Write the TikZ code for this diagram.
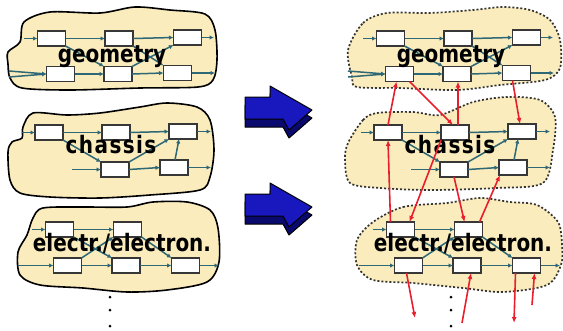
\documentclass[tikz,border=0pt]{standalone}
\usepackage{fontspec}
\usepackage{graphicx}
\usetikzlibrary{arrows.meta}
\newfontfamily\labelfont{DejaVu Sans}

\definecolor{cloudfill}{RGB}{250,236,188}
\definecolor{linkteal}{RGB}{46,104,118}
\definecolor{boxline}{RGB}{55,55,55}
\definecolor{depred}{RGB}{232,30,45}
\definecolor{arrowblue}{RGB}{24,24,190}
\definecolor{arrowdark}{RGB}{10,10,110}

\tikzset{
  box/.style={draw=boxline, fill=white, line width=1.6pt, minimum width=28pt,
    minimum height=15pt, inner sep=0pt, outer sep=0pt},
  link/.style={draw=linkteal, line width=1.5pt, -{Latex[length=4.5pt,width=4.5pt]}},
  dep/.style={draw=depred, line width=1.6pt, -{Latex[length=6pt,width=5pt]}},
  lbl/.style={font=\labelfont\bfseries\fontsize{20}{22}\selectfont, inner sep=0pt, anchor=base},
  solidcloud/.style={draw=black, line width=1.6pt},
  dotcloud/.style={draw=black!80, line width=1.7pt, dash pattern=on 2pt off 2pt},
  % geometry module: six components
  geompic/.pic={
    \node[box] (-g1) at (51.5,38.5) {};
    \node[box] (-g2) at (119,38.5) {};
    \node[box] (-g3) at (187.5,37.5) {};
    \node[box] (-g4) at (60.5,74) {};
    \node[box] (-g5) at (118,74) {};
    \node[box] (-g6) at (177.5,73) {};
    \coordinate (-i1) at (24,38.5);
    \coordinate (-i2) at (9,71);
    \coordinate (-i3) at (9,77);
    \coordinate (-o1) at (214,37.5);
    \coordinate (-o2) at (215,73);
    \draw[link] (-i1) -- (-g1.west);
    \draw[link] (-g1.east) -- (-g2.west);
    \draw[link] (-g2.east) -- (-g3.west);
    \draw[link] (-g3.east) -- (-o1);
    \draw[link] (-i2) -- (-g4.west);
    \draw[link] (-i3) -- (-g4.west);
    \draw[link] (-g4.east) -- (-g5.west);
    \draw[link] (-g5.east) -- (-g6.west);
    \draw[link] (-g6.east) -- (-o2);
    \draw[link] (-g1.south east) -- (-g5.north west);
    \draw[link] (-g2.south east) -- (-g6.north west);
    \draw[link] (-g5.north east) -- (-g3.south west);
    \node[lbl] (-t) at (112,62) {\scalebox{1}[1.2]{geometry}};
  },
  % chassis module: five components
  chassispic/.pic={
    \node[box] (-c1) at (49,132.5) {};
    \node[box] (-c2) at (116,132.5) {};
    \node[box] (-c3) at (183,131.5) {};
    \node[box] (-c4) at (115,169.5) {};
    \node[box] (-c5) at (174,167.5) {};
    \coordinate (-i1) at (22,132.5);
    \coordinate (-i2) at (72,169.5);
    \coordinate (-o1) at (211,131.5);
    \coordinate (-o2) at (211,167.5);
    \draw[link] (-i1) -- (-c1.west);
    \draw[link] (-c1.east) -- (-c2.west);
    \draw[link] (-c2.east) -- (-c3.west);
    \draw[link] (-c3.east) -- (-o1);
    \draw[link] (-i2) -- (-c4.west);
    \draw[link] (-c4.east) -- (-c5.west);
    \draw[link] (-c5.east) -- (-o2);
    \draw[link] (-c1.south east) -- (-c4.north west);
    \draw[link] (-c4.north east) -- (-c3.south west);
    \draw[link] ([xshift=1pt]-c5.north) -- ([xshift=-4pt]-c3.south);
    \node[lbl] (-t) at (111,153) {\addfontfeature{LetterSpace=7}\scalebox{1}[1.2]{chassis}};
  },
  % electrical / electronic module: five components
  elecpic/.pic={
    \node[box] (-e1) at (59.5,229.5) {};
    \node[box] (-e2) at (127.5,229.5) {};
    \node[box] (-e3) at (67.5,265.5) {};
    \node[box] (-e4) at (126,265.5) {};
    \node[box] (-e5) at (185.5,265.5) {};
    \coordinate (-i1) at (32,229.5);
    \coordinate (-i2) at (18,265.5);
    \coordinate (-o1) at (219,265.5);
    \draw[link] (-i1) -- (-e1.west);
    \draw[link] (-e1.east) -- (-e2.west);
    \draw[link] (-e2.south east) -- (-e5.north west);
    \draw[link] (-i2) -- (-e3.west);
    \draw[link] (-e3.east) -- (-e4.west);
    \draw[link] (-e4.east) -- (-e5.west);
    \draw[link] (-e5.east) -- (-o1);
    \draw[link] (-e1.south east) -- (-e4.north west);
    \draw[link] (-e3.north east) -- (-e2.south west);
    \node[lbl] (-t) at (122,251) {\scalebox{1}[1.2]{electr./electron.}};
  },
}

\begin{document}
\begin{tikzpicture}[x=1pt, y=-1pt]
\useasboundingbox (0,0) rectangle (563,330);

% ---- module outlines, left: separate modules
\path[fill=cloudfill, solidcloud] plot[smooth cycle] coordinates {
  (8,52) (20,42) (24,22) (50,12) (100,13) (135,7) (170,10) (205,14) (215,30)
  (217,60) (213,80) (198,87) (140,88) (70,90) (22,88) (10,78) (8,64)};
\path[fill=cloudfill, solidcloud] plot[smooth cycle] coordinates {
  (23,127) (33,113) (67,115) (100,113) (140,107) (167,103) (197,107) (210,120)
  (214,150) (210,177) (200,190) (150,195) (100,198) (50,197) (20,193) (10,180)
  (8,152) (12,142) (22,138)};
\path[fill=cloudfill, solidcloud] plot[smooth cycle] coordinates {
  (33,218) (43,208) (83,207) (127,207) (153,202) (187,202) (210,210) (218,228)
  (219,262) (207,282) (167,290) (127,292) (83,288) (40,285) (20,275) (18,252)
  (27,235)};

% ---- module outlines, right: coupled modules
\def\cloudRG{(348,50) (363,23) (387,13) (430,13) (473,10) (503,7) (530,10) (550,20)
  (560,40) (560,68) (545,80) (500,85) (457,90) (400,88) (357,87) (352,77)}
\def\cloudRC{(348,143) (363,120) (377,113) (413,112) (440,115) (473,102) (507,97)
  (540,100) (555,117) (553,150) (543,183) (497,188) (430,190) (380,188) (350,183) (345,160)}
\def\cloudRE{(373,222) (403,207) (447,203) (480,198) (510,202) (537,205) (558,222)
  (562,245) (561,265) (547,285) (503,292) (463,288) (413,283) (373,280) (357,265) (357,240)}
\fill[cloudfill] plot[smooth cycle] coordinates {\cloudRG};
\fill[cloudfill] plot[smooth cycle] coordinates {\cloudRC};
\fill[cloudfill] plot[smooth cycle] coordinates {\cloudRE};
\draw[dotcloud] plot[smooth cycle] coordinates {\cloudRG};
\draw[dotcloud] plot[smooth cycle] coordinates {\cloudRC};
\draw[dotcloud] plot[smooth cycle] coordinates {\cloudRE};

% ---- module contents
\pic (LG) at (0,0) {geompic};
\pic (LC) at (0,0) {chassispic};
\pic (LE) at (0,0) {elecpic};
\pic (RG) at (339,0) {geompic};
\pic (RC) at (339,0) {chassispic};
\pic (RE) at (341,0) {elecpic};

% ---- cross-module dependencies
\coordinate (d1) at (415,318);
\coordinate (d2) at (462,323);
\coordinate (d3) at (514,323);
\coordinate (d4) at (532,305);
\draw[dep] (RC-c1.north) -- ([xshift=-3pt]RG-g4.south);
\draw[dep] ([xshift=10pt]RG-g4.south) -- ([xshift=-2pt]RC-c2.north);
\draw[dep] ([xshift=3pt]RC-c2.north) -- ([xshift=1pt]RG-g5.south);
\draw[dep] ([xshift=-4pt]RG-g6.south) -- ([xshift=-2pt]RC-c3.north);
\draw[dep] ([xshift=-10pt]RE-e1.north) -- (RC-c1.south);
\draw[dep] (RC-c2.south west) -- ([xshift=9pt]RE-e1.north);
\draw[dep] (RC-c4.south) -- ([xshift=-4pt]RE-e2.north);
\draw[dep] ([xshift=11pt]RE-e2.north) -- ([xshift=-13pt]RC-c5.south);
\draw[dep] ([xshift=-2pt]RE-e3.south) -- (d1);
\draw[dep] (d2) -- ([xshift=4pt]RE-e4.south);
\draw[dep] ([xshift=-11pt]RE-e5.south) -- (d3);
\draw[dep] (d4) -- ([xshift=8pt]RE-e5.south);

% ---- continuation dots
\foreach \yy in {297,310,326} {
  \fill (110,\yy) circle (1.5pt);
  \fill (451,\yy) circle (1.5pt);
}

% ---- block arrows
\foreach \dy in {0,97} {
  \begin{scope}[shift={(0,\dy)}]
    \draw[fill=arrowdark, line width=1pt, line join=round]
      (245,105) -- (270,105) -- (270,94) -- (312,118) -- (289,138) -- (283,127) -- (245,127) -- cycle;
    \draw[fill=arrowblue, line width=1pt, line join=round]
      (245,97) -- (270,97) -- (270,86) -- (312,110) -- (289,130) -- (283,119) -- (245,119) -- cycle;
  \end{scope}
}
\end{tikzpicture}
\end{document}
